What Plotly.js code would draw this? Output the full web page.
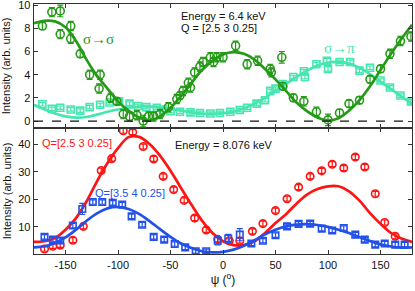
<!DOCTYPE html>
<html><head><meta charset="utf-8">
<script src="https://cdn.plot.ly/plotly-3.0.1.min.js"></script>
<style>body{margin:0;padding:0;background:#fff}#c{width:415px;height:291px}</style>
</head><body><div id="c"></div>
<script>
// ---- Top panel (6.4 keV) : sigma->sigma data
const ssPsi = [-172,-163,-155,-155,-145,-145,-136,-127,-117,-118,-107,-101,-95,-89,-82,-76,-71,-66,-60,-52,-44,-41,-38,-33,-31,-27,-22,-19,-12,-9,-6,0,12,23,33,45,46,56,57,67,77,89,100,111,120,130,140,150,159,169,179];
const ssI   = [8.2,9.4,9.5,7.5,8.2,7.1,5.8,4.0,4.0,2.8,2.0,1.7,0.6,0.4,0.5,0.0,0.4,0.4,0.6,1.2,1.9,2.2,2.6,3.3,2.9,4.2,4.7,5.1,5.5,5.1,5.5,5.5,6.5,4.9,5.2,4.5,4.2,5.5,3.0,2.0,1.7,0.8,0.1,0.7,1.5,1.8,3.6,4.5,5.8,6.9,7.3];
const ssErr = [0.3,0.4,0.5,0.4,0.4,0.4,0.3,0.4,0.4,0.4,0.4,0.3,0.4,0.4,0.4,0.5,0.4,0.4,0.4,0.4,0.4,0.3,0.4,0.4,0.4,0.4,0.4,0.4,0.4,0.4,0.4,0.4,0.4,0.4,0.4,0.4,0.4,0.5,0.3,0.3,0.4,0.4,0.5,0.3,0.3,0.3,0.3,0.3,0.4,0.4,0.4];
// sigma->pi data
const spPsi = [-172,-163,-155,-145,-136,-127,-117,-108,-99,-89,-81,-73,-63,-57,-50,-41,-31,-22,-12,-3,7,16,23,32,40,45,50,57,67,77,78,89,99,100,111,121,130,140,150,159,169,179];
const spI   = [1.45,1.05,1.15,1.0,0.9,1.2,1.4,1.6,1.7,1.5,1.3,1.2,1.15,1.0,0.85,0.8,0.75,0.7,0.65,0.7,0.8,0.95,1.15,1.5,1.8,2.6,2.8,3.2,3.8,4.3,3.8,4.9,5.2,4.5,5.1,5.1,4.35,4.6,3.5,2.9,2.2,1.7];
const spErr = [0.15,0.15,0.15,0.15,0.15,0.15,0.15,0.15,0.15,0.15,0.15,0.15,0.15,0.15,0.15,0.15,0.15,0.15,0.15,0.15,0.15,0.15,0.15,0.15,0.15,0.15,0.15,0.15,0.15,0.15,0.15,0.15,0.2,0.2,0.15,0.15,0.15,0.15,0.15,0.15,0.15,0.15];
// fit curves (read every 10 deg)
const fitPsi = [-180,-170,-160,-150,-140,-130,-120,-110,-100,-90,-80,-70,-60,-50,-40,-30,-20,-10,0,10,20,30,40,50,60,70,80,90,100,110,120,130,140,150,160,170,180];
const ssFit = [8.45,8.65,8.6,8.1,6.9,5.3,3.9,2.8,1.7,0.9,0.3,0.05,0.4,1.15,2.15,3.3,4.4,5.2,5.75,5.95,5.8,5.3,4.5,3.6,2.6,1.6,0.85,0.3,0.05,0.25,0.9,1.8,3.0,4.4,5.8,7.1,8.3];
const spFit = [1.4,1.0,0.65,0.4,0.3,0.35,0.55,0.8,1.0,1.15,1.25,1.25,1.2,1.05,0.9,0.75,0.65,0.62,0.68,0.8,1.1,1.5,2.0,2.6,3.2,3.8,4.35,4.8,5.05,5.1,4.95,4.6,4.05,3.4,2.75,2.1,1.5];

// ---- Bottom panel (8.076 keV)
const rPsi = [-170,-162,-155,-143,-133,-116,-106,-95,-86,-76,-66,-57,-47,-37,-27,-16,-5,6,16,28,38,50,61,72,83,94,104,115,126,135,145,154,164];
const rI   = [2.0,3.0,3.4,5.2,10.2,30.4,34.7,44.8,44.3,39.1,34.6,28.3,23.5,19.6,13.2,8.9,5.5,5.0,5.0,8.4,11.2,15.9,20.2,24.4,28.3,30.3,32.7,31.3,35.3,31.7,22.0,11.6,6.6];
const rErr = [0.8,0.8,0.8,0.9,0.9,0.9,0.9,0.9,0.9,0.9,0.9,0.9,0.9,0.9,0.9,0.9,0.9,0.9,0.9,0.9,0.9,0.9,0.9,0.9,0.9,0.9,0.9,0.9,0.9,0.9,0.9,0.9,0.9];
const bPsi = [-170,-162,-155,-143,-134,-124,-115,-105,-96,-87,-77,-66,-56,-46,-36,-26,-16,-5,5,16,27,38,50,61,72,83,94,104,115,126,135,145,154,164,173];
const bI   = [6.4,5.4,5.1,10.5,16.5,19.0,19.0,18.7,18.1,13.8,10.8,6.4,5.4,3.8,2.6,1.2,1.2,5.0,5.8,7.2,4.0,5.0,7.0,10.2,11.1,11.2,9.4,8.7,9.6,7.2,5.4,3.6,4.0,3.6,3.6];
const bErr = [0.8,0.8,0.8,0.8,2.0,0.8,0.8,0.8,0.8,0.8,0.8,0.8,0.8,0.8,0.8,0.8,0.8,1.5,1.5,2.2,0.8,0.8,0.8,0.8,0.8,0.8,0.8,0.8,0.8,0.8,0.8,0.8,0.8,0.8,0.8];
const rFit = [4.6,4.8,6.0,9.0,13.2,19.2,26.5,33.1,38.5,42.5,42.6,40.0,35.8,30.3,24.1,18.0,12.3,7.8,4.8,3.4,3.4,4.8,7.8,11.4,14.6,18.4,21.7,23.7,24.7,24.7,22.9,19.5,15.0,11.1,7.8,5.8,4.6];
const bFit = [2.6,3.0,4.2,6.2,9.0,12.2,14.9,16.7,17.2,16.5,14.7,12.1,9.2,6.4,4.0,2.4,1.2,0.8,1.0,1.8,3.2,5.2,7.3,9.0,10.2,10.8,11.0,10.7,10.0,9.0,7.8,6.3,4.9,3.7,2.9,2.5,2.6];

const xTicks = [-150,-100,-50,0,50,100,150];
const xTickText = ["-150","-100","-50","0","50","100","150"];
const yTopTicks = [0,2,4,6,8,10];
const yBotTicks = [10,20,30,40];

const GREEN = '#259a17', CYAN = '#45e6b0', RED = '#ff1414', BLUE = '#2250ea';

function pts(x,y,e,color,sym,size,xa,ya){
  return {x:x,y:y,type:'scatter',mode:'markers',xaxis:xa,yaxis:ya,
    marker:{symbol:sym,size:size,color:color,line:{color:color,width:1.6}},
    error_y:{type:'data',array:e,visible:true,color:color,thickness:1.2,width:3},
    showlegend:false,hoverinfo:'skip'};
}
function fit(x,y,color,xa,ya){
  return {x:x,y:y,type:'scatter',mode:'lines',xaxis:xa,yaxis:ya,
    line:{color:color,width:2.7,shape:'spline',smoothing:1},showlegend:false,hoverinfo:'skip'};
}

const data = [
  fit(fitPsi,spFit,CYAN,'x2','y2'),
  pts(spPsi,spI,spErr,CYAN,'square-open',7,'x2','y2'),
  fit(fitPsi,ssFit,GREEN,'x2','y2'),
  pts(ssPsi,ssI,ssErr,GREEN,'circle-open',8,'x2','y2'),
  fit(fitPsi,rFit,RED,'x','y'),
  pts(rPsi,rI,rErr,RED,'circle-open',7.5,'x','y'),
  fit(fitPsi,bFit,BLUE,'x','y'),
  pts(bPsi,bI,bErr,BLUE,'square-open',6.5,'x','y')
];

const axCommon = {showline:true,linecolor:'#333',linewidth:1.4,mirror:'allticks',ticks:'inside',ticklen:4,tickcolor:'#333',zeroline:false,showgrid:false,
  ticklabeloverflow:'allow',
  tickfont:{family:'Liberation Sans, Arial, sans-serif',size:11,color:'#111'}};
const FONT = {family:'Liberation Sans, Arial, sans-serif',size:11,color:'#111'};

const layout = {
  width:415,height:291,margin:{l:34,r:3,t:4,b:37},
  paper_bgcolor:'#fff',plot_bgcolor:'#fff',font:FONT,
  xaxis:Object.assign({},axCommon,{domain:[0,1],range:[-180,180],anchor:'y',tickvals:xTicks,ticktext:xTickText,
    title:{text:'ψ (<sup>o</sup>)',font:{family:'Liberation Sans, Arial, sans-serif',size:12,color:'#111'},standoff:4}}),
  xaxis2:Object.assign({},axCommon,{domain:[0,1],range:[-180,180],anchor:'y2',tickvals:xTicks,showticklabels:false}),
  yaxis:Object.assign({},axCommon,{domain:[0,0.504],range:[0.2,45.8],anchor:'x',tickvals:yBotTicks,
    title:{text:'Intensity (arb. units)',font:FONT,standoff:4}}),
  yaxis2:Object.assign({},axCommon,{domain:[0.504,1],range:[-0.6,10.1],anchor:'x2',tickvals:yTopTicks,
    title:{text:'Intensity (arb. units)',font:FONT,standoff:8}}),
  shapes:[{type:'line',xref:'x2 domain',yref:'y2',x0:0,x1:1,y0:0,y1:0,line:{color:'#111',width:1.3,dash:'dash'}}],
  annotations:[
    {xref:'x2',yref:'y2',x:-42,y:9.05,text:'Energy = 6.4 keV',showarrow:false,xanchor:'left',yanchor:'middle',font:FONT},
    {xref:'x2',yref:'y2',x:-42,y:8.0,text:'Q = [2.5 3 0.25]',showarrow:false,xanchor:'left',yanchor:'middle',font:FONT},
    {xref:'x2',yref:'y2',x:-119,y:7.1,text:'σ→σ',showarrow:false,xanchor:'center',yanchor:'middle',font:{family:'Liberation Serif, serif',size:15,color:GREEN}},
    {xref:'x2',yref:'y2',x:111,y:6.3,text:'σ→π',showarrow:false,xanchor:'center',yanchor:'middle',font:{family:'Liberation Serif, serif',size:15,color:CYAN}},
    {xref:'x',yref:'y',x:-47.5,y:39.6,text:'Energy = 8.076 keV',showarrow:false,xanchor:'left',yanchor:'middle',font:FONT},
    {xref:'x',yref:'y',x:-174,y:40.4,text:'Q=[2.5 3 0.25]',showarrow:false,xanchor:'left',yanchor:'middle',font:{family:'Liberation Sans, Arial, sans-serif',size:11,color:RED}},
    {xref:'x',yref:'y',x:-124,y:22.3,text:'Q=[3.5 4 0.25]',showarrow:false,xanchor:'left',yanchor:'middle',font:{family:'Liberation Sans, Arial, sans-serif',size:11,color:BLUE}}
  ]
};
Plotly.newPlot('c',data,layout,{staticPlot:true,displayModeBar:false});
</script></body></html>
